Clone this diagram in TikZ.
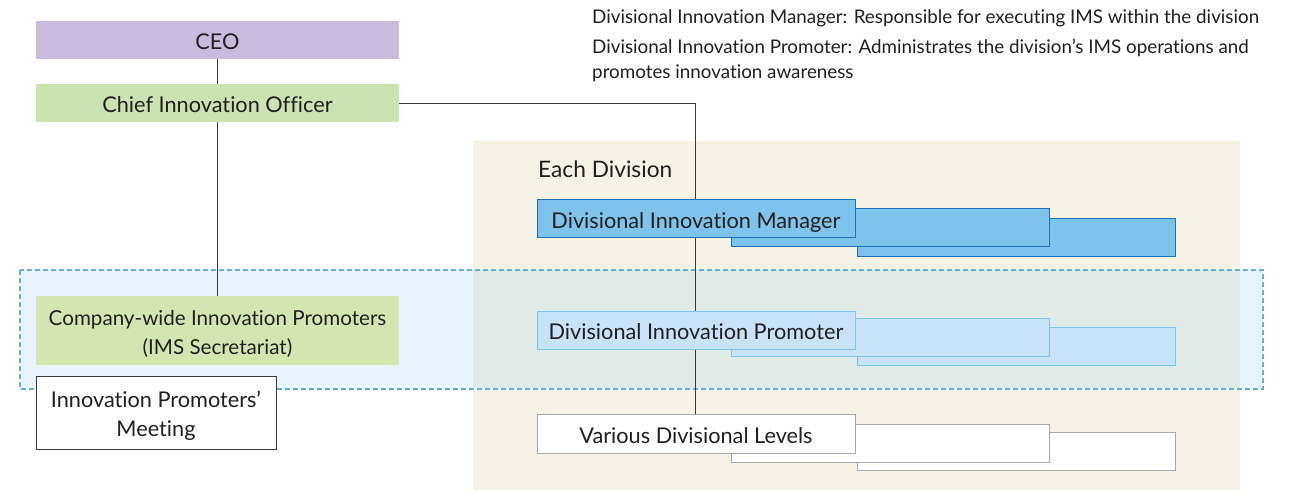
\documentclass[tikz,border=0pt]{standalone}
\usepackage{fontspec}
\setmainfont{Lato}[Ligatures={NoCommon,NoRare,NoDiscretionary}]
\usetikzlibrary{positioning}
\definecolor{ceoC}{HTML}{C9BBDC}
\definecolor{cioC}{HTML}{CBE2B1}
\definecolor{cwpC}{HTML}{D3E6B0}
\definecolor{beigeC}{HTML}{F6F3E6}
\definecolor{dashC}{HTML}{6AAFD8}
\definecolor{mgrC}{HTML}{7EC3EC}
\definecolor{mgrB}{HTML}{1C72B8}
\definecolor{proC}{HTML}{C8E3F6}
\definecolor{proB}{HTML}{7FC6EC}
\definecolor{lvlB}{HTML}{AAAAAA}
\definecolor{lineC}{HTML}{3A3A3A}
\definecolor{txtC}{HTML}{231F20}
\tikzset{
  base/.style={inner sep=0pt, text=txtC, align=center, text height=18.5pt, text depth=0pt, font=\fontsize{21.7}{29}\selectfont},
  twoline/.style={text height=47.5pt},
  wide/.style={base, minimum width=363pt, minimum height=38pt},
  divbox/.style={base, minimum width=318pt, minimum height=38pt, line width=1pt},
  mgr/.style={divbox, fill=mgrC, draw=mgrB},
  pro/.style={divbox, fill=proC, draw=proB},
  lvl/.style={divbox, fill=white, draw=lvlB},
  conn/.style={draw=lineC, line width=0.9pt},
  note/.style={inner sep=0pt, anchor=west, text=txtC, font=\fontsize{18.8}{22}\selectfont},
  title/.style={inner sep=0pt, anchor=west, text=txtC, font=\fontsize{22.7}{25}\selectfont}
}
\begin{document}
\begin{tikzpicture}[x=1pt,y=-1pt]
\path[use as bounding box, fill=white] (0,0) rectangle (1294,494);
% background areas
\fill[beigeC] (473,141) rectangle (1240,490);
\fill[mgrC, opacity=0.18] (20,270) rectangle (1263,389);
\draw[dashC, line width=1.2pt, dash pattern=on 5pt off 3pt] (20,270) rectangle (1263,389);
% notes
\node[note] (n1) at (592,18) {Divisional Innovation Manager: Responsible for executing IMS within the division};
\node[note] (n2) at (592,48) {Divisional Innovation Promoter: Administrates the division’s IMS operations and};
\node[note] (n3) at (592,73) {promotes innovation awareness};
% left column
\node[wide, fill=ceoC] (ceo) at (217.5,40) {CEO};
\node[wide, fill=cioC] (cio) at (217.5,103) {Chief Innovation Officer};
\node[base, twoline, minimum width=363pt, minimum height=69pt, fill=cwpC, font=\fontsize{20.6}{29}\selectfont] (cwp) at (217.5,330.5) {Company-wide Innovation Promoters\\(IMS Secretariat)};
% division
\node[title] (ed) at (538,169) {Each Division};
% boxes back to front
\node[lvl] (vdl3) at (1016,451.5) {};
\node[lvl] (vdl2) at (890,443) {};
\node[pro] (dip3) at (1016,347) {};
\node[pro] (dip2) at (890,337.5) {};
\node[mgr] (dim3) at (1016,237.5) {};
\node[mgr] (dim2) at (890,228) {};
% connectors
\draw[conn] (ceo) -- (cio);
\draw[conn] (cio) -- (cwp);
\coordinate (vtop) at (695,415);
\draw[conn] (cio.east) -| (vtop);
% front boxes
\node[mgr] (dim) at (696,219) {Divisional Innovation Manager};
\node[pro] (dip) at (696,330.5) {Divisional Innovation Promoter};
\node[lvl] (vdl) at (696,434) {Various Divisional Levels};
\node[base, twoline, minimum width=240pt, minimum height=72pt, fill=white, draw=lineC, line width=1pt] (ipm) at (156,413) {Innovation Promoters’\\Meeting};
\end{tikzpicture}
\end{document}
